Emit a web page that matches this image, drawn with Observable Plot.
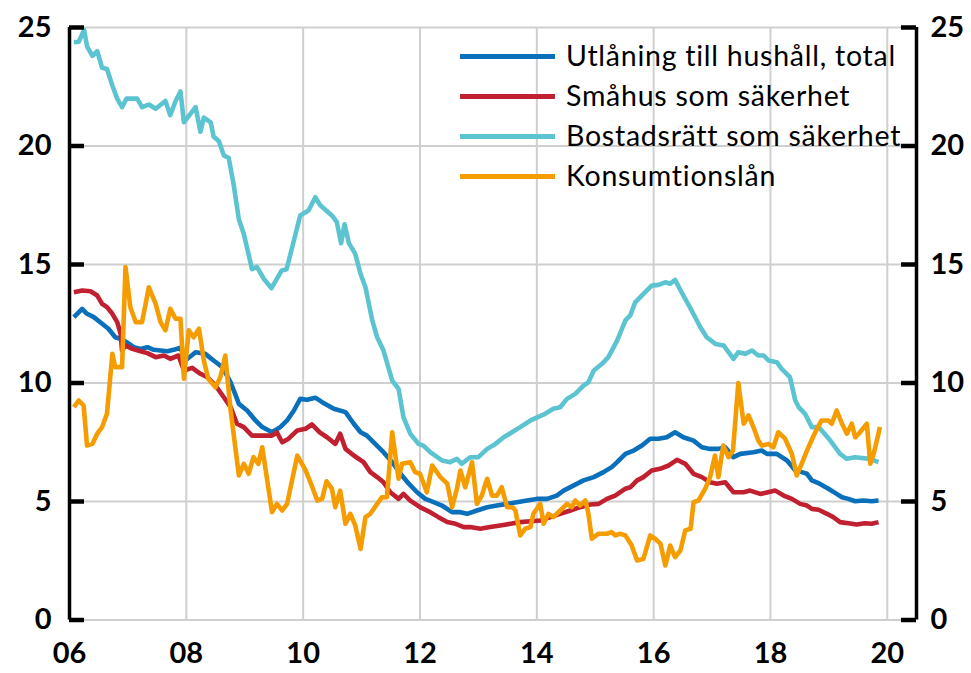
<!DOCTYPE html>
<html>
<head>
<meta charset="utf-8">
<script src="https://cdn.jsdelivr.net/npm/d3@7"></script>
<script src="https://cdn.jsdelivr.net/npm/@observablehq/plot@0.6"></script>
<style>
  html, body { margin: 0; padding: 0; background: #fff; }
  #wrap { position: relative; width: 971px; height: 673px; }
  .leg { position: absolute; left: 460px; font-family: Lato, "Open Sans", sans-serif; font-size: 28.5px; letter-spacing: 0.75px; font-variant-ligatures: none; color: #000; white-space: nowrap; }
  .leg .sw { position: absolute; left: 0; width: 95px; height: 5px; }
  .leg .tx { position: absolute; left: 106px; line-height: 1; }
  svg text { font-variant-ligatures: none; }
</style>
</head>
<body>
<div id="wrap"></div>
<script>
// ---- Data (months since Jan 2006, value in percent) ----
const seriesNames = ["Utlåning till hushåll, total", "Småhus som säkerhet", "Bostadsrätt som säkerhet", "Konsumtionslån"];

const totalMonths = [0.9,2.6,3.6,5.0,6.7,8.0,9.4,10.5,11.8,13.2,14.6,16.0,17.3,18.7,20.1,21.4,22.8,23.8,25.9,27.9,29.6,31.4,33.1,34.8,36.5,38.2,39.6,41.6,43.3,44.7,46.1,47.4,48.8,50.5,51.9,54.3,56.7,58.4,59.8,61.1,62.8,64.5,66.3,68.0,69.7,71.4,73.1,74.8,76.5,78.6,80.3,81.7,83.7,85.8,87.8,89.9,91.9,94.0,96.0,98.1,100.1,101.5,103.6,105.6,107.7,109.7,111.4,112.5,114.2,115.9,117.6,119.3,121.0,122.7,124.4,126.1,128.2,129.9,131.6,133.3,134.7,136.4,137.8,140.5,142.2,143.3,145.3,147.4,149.1,150.4,151.5,152.5,154.1,155.9,157.6,158.7,160.0,161.4,163.1,164.8,166.2];
const totalValues = [12.78,13.13,12.92,12.78,12.5,12.29,11.93,11.86,11.72,11.51,11.44,11.51,11.4,11.37,11.34,11.4,11.49,10.95,11.3,11.23,10.95,10.67,10.03,9.12,8.84,8.42,8.14,7.92,8.14,8.42,8.84,9.33,9.29,9.38,9.19,8.91,8.77,8.28,7.92,7.78,7.43,7.08,6.66,6.17,5.75,5.39,5.11,4.97,4.83,4.55,4.55,4.48,4.62,4.76,4.83,4.9,4.97,5.04,5.11,5.11,5.25,5.46,5.68,5.89,6.03,6.24,6.45,6.66,7.01,7.15,7.36,7.65,7.65,7.71,7.92,7.71,7.57,7.29,7.22,7.22,7.29,6.87,7.01,7.08,7.15,7.01,7.01,6.73,6.31,6.24,6.17,5.89,5.75,5.54,5.32,5.18,5.11,5.01,5.04,5.01,5.04];

const smahusMonths = [0.9,2.6,4.3,5.7,6.7,7.7,8.8,9.8,10.5,10.8,11.5,12.9,14.6,16.0,17.7,19.4,20.7,22.4,23.5,25.2,26.9,28.3,30.0,31.7,33.1,34.4,35.8,37.5,39.6,41.6,42.6,43.7,45.0,46.8,48.5,49.8,51.4,52.9,54.6,55.6,56.7,58.4,60.4,61.8,63.2,64.5,65.9,67.6,68.6,70.0,72.0,74.1,75.8,77.6,79.3,81.0,82.3,84.4,86.4,88.5,90.6,92.6,94.7,96.7,98.8,100.8,102.9,104.9,107.0,108.7,110.4,112.1,114.2,115.2,116.6,117.9,119.6,121.3,123.1,124.8,126.5,128.2,129.9,131.6,133.0,134.7,136.4,138.5,139.8,141.9,145.0,146.7,148.4,150.1,151.5,152.5,153.9,155.6,156.9,158.3,160.0,161.7,163.4,164.8,166.2];
const smahusValues = [13.83,13.9,13.87,13.69,13.34,13.2,12.92,12.57,12.08,11.37,11.58,11.44,11.34,11.26,11.09,11.16,11.02,11.16,10.53,10.64,10.39,10.25,9.89,9.4,8.98,8.28,8.14,7.78,7.78,7.78,7.92,7.5,7.65,8.0,8.07,8.25,7.92,7.71,7.43,7.86,7.22,6.94,6.66,6.24,6.03,5.81,5.39,5.11,5.32,5.04,4.76,4.55,4.34,4.13,4.06,3.92,3.92,3.85,3.92,3.99,4.06,4.13,4.17,4.2,4.34,4.48,4.62,4.76,4.87,4.9,5.11,5.25,5.54,5.6,5.89,6.03,6.31,6.38,6.52,6.76,6.59,6.17,6.03,5.81,5.75,5.81,5.39,5.39,5.46,5.32,5.46,5.25,5.11,4.9,4.83,4.69,4.65,4.48,4.34,4.13,4.08,4.03,4.08,4.06,4.13];

const brfMonths = [0.9,1.9,3.0,3.6,4.7,5.7,6.7,7.7,8.8,9.8,10.8,11.7,13.9,14.9,16.3,17.7,19.7,20.7,21.8,22.8,23.5,25.9,26.9,27.6,29.0,29.6,30.7,31.7,32.7,33.7,34.8,35.8,37.5,38.5,39.9,41.5,43.6,44.6,47.4,49.1,50.5,51.5,53.9,54.9,55.8,56.5,57.4,58.7,59.8,60.8,62.2,63.2,64.5,66.3,67.6,68.6,70.0,71.7,72.7,74.1,76.5,78.2,79.6,80.6,82.3,84.0,85.8,87.5,89.2,90.9,92.6,94.7,97.7,99.4,100.8,102.2,103.9,105.6,106.6,107.7,109.4,110.7,112.5,114.2,115.2,116.2,117.9,119.6,121.0,122.4,123.4,124.4,126.1,127.8,129.6,130.9,132.7,134.4,136.4,137.4,138.8,140.2,141.5,142.6,143.6,145.3,146.3,148.0,149.1,149.8,151.1,152.5,153.9,156.3,158.3,159.7,161.4,164.5,166.2];
const brfValues = [24.38,24.4,24.9,24.2,23.8,24.0,23.3,23.25,22.55,22.0,21.64,22.0,22.0,21.64,21.75,21.57,21.9,21.3,21.9,22.3,21.0,21.64,20.6,21.2,21.0,20.4,20.2,19.6,19.5,18.4,16.9,16.3,14.8,14.9,14.4,14.0,14.75,14.8,17.07,17.28,17.84,17.5,17.07,16.8,15.9,16.7,15.9,15.45,14.6,14.04,12.64,11.93,11.37,10.1,9.75,8.56,7.86,7.43,7.36,7.08,6.73,6.66,6.8,6.59,6.87,6.87,7.22,7.43,7.71,7.92,8.14,8.42,8.7,8.91,8.98,9.33,9.54,9.89,10.03,10.53,10.81,11.09,11.79,12.64,12.85,13.4,13.76,14.11,14.14,14.25,14.19,14.35,13.69,13.06,12.35,11.93,11.65,11.58,11.02,11.3,11.23,11.37,11.16,11.16,10.95,10.88,10.6,10.25,9.26,8.98,8.7,8.14,8.14,7.57,7.01,6.8,6.87,6.8,6.66];

const konsMonths = [0.9,1.9,2.9,3.6,4.7,5.7,6.7,7.7,8.8,9.4,10.8,11.5,12.5,13.6,14.9,16.3,17.7,18.7,19.7,20.7,21.8,22.8,23.5,24.5,25.5,26.6,27.6,28.5,30.0,31.0,32.0,33.1,34.8,35.8,36.8,37.8,38.8,39.6,41.6,42.6,43.7,44.7,46.8,48.5,49.5,50.9,51.9,52.8,53.9,54.6,55.6,56.7,57.7,58.7,59.8,60.8,61.8,63.2,64.2,65.2,66.3,67.6,68.3,70.0,71.0,72.0,73.4,74.5,76.2,77.6,78.6,79.6,80.3,81.3,82.7,83.7,84.7,85.8,86.8,87.8,88.8,89.9,91.0,91.6,92.6,93.6,94.7,95.3,96.7,97.4,98.4,99.4,100.8,102.2,103.2,103.9,104.9,106.0,106.6,107.3,108.7,110.4,111.4,112.1,113.1,114.2,115.5,116.6,117.9,119.3,120.3,121.4,122.4,123.4,124.4,125.5,126.5,127.6,128.2,129.2,130.6,131.6,132.6,133.3,134.3,135.4,136.3,137.4,138.5,139.5,140.5,141.5,142.2,143.6,144.6,145.6,147.0,148.4,149.4,150.4,151.8,153.2,154.5,155.9,156.6,157.6,158.7,159.7,160.7,161.4,162.4,163.8,164.5,165.2,166.5];
const konsValues = [8.98,9.26,9.05,7.36,7.43,7.86,8.14,8.7,11.23,10.67,10.67,14.89,13.2,12.57,12.57,14.04,13.34,12.57,12.22,13.13,12.71,12.71,10.18,12.22,11.93,12.29,10.95,10.18,9.82,10.25,11.16,8.84,6.1,6.59,6.17,6.87,6.59,7.29,4.55,4.9,4.62,4.9,6.94,6.31,5.81,5.04,5.11,5.85,5.54,4.76,5.46,4.06,4.48,3.99,3.0,4.34,4.48,4.9,5.18,5.18,7.92,5.96,6.59,6.66,6.24,6.17,5.39,6.52,6.03,5.75,4.76,5.54,6.31,5.6,6.66,4.9,5.25,5.96,5.25,5.25,5.6,4.76,4.76,4.62,3.57,3.85,3.92,4.48,4.9,4.06,4.48,4.34,4.62,4.9,4.76,5.04,4.83,5.04,4.48,3.43,3.64,3.64,3.71,3.57,3.64,3.57,3.14,2.51,2.58,3.57,3.43,3.22,2.3,3.14,2.65,2.93,3.78,3.85,4.97,5.04,5.54,6.03,6.94,6.03,7.36,6.87,7.15,10.0,8.28,8.63,8.14,7.57,7.36,7.43,7.29,7.92,7.65,7.01,6.1,6.59,7.29,7.92,8.42,8.42,8.28,8.84,8.28,7.86,8.28,7.71,7.92,8.28,6.59,7.01,8.14];

const yTicks = [0, 5, 10, 15, 20, 25];
const xLabelYears = [2006, 2008, 2010, 2012, 2014, 2016, 2018, 2020];
const xGridYears = [2008, 2010, 2012, 2014, 2016, 2018, 2020];
const xDomain = [2006, 2020.5];

// ---- Styles ----
const colors = ["#0a70bb", "#c0202f", "#5cc3d1", "#f59c00"];
const W = 971, H = 673;
const mL = 69, mR = 55, mT = 27, mB = 53.5;
const plotW = W - mL - mR;

const toRows = (months, values, s) => months.map((m, i) => ({x: 2006 + m / 12, y: values[i], s}));
const series = [
  toRows(totalMonths, totalValues, 0),
  toRows(smahusMonths, smahusValues, 1),
  toRows(brfMonths, brfValues, 2),
  toRows(konsMonths, konsValues, 3)
];

const chart = Plot.plot({
  width: W, height: H,
  marginLeft: mL, marginRight: mR, marginTop: mT, marginBottom: mB,
  style: {fontFamily: "Lato, 'Open Sans', sans-serif", fontSize: "29px", fontWeight: "bold", background: "#fff", color: "#000"},
  x: {type: "linear", domain: xDomain},
  y: {domain: [0, 25]},
  marks: [
    Plot.gridY(yTicks, {stroke: "#cfcfcf", strokeOpacity: 1, strokeWidth: 2}),
    Plot.gridX(xGridYears, {stroke: "#cfcfcf", strokeOpacity: 1, strokeWidth: 2}),
    ...series.map((rows, i) => Plot.line(rows, {x: "x", y: "y", stroke: colors[i], strokeWidth: 4.6, strokeLinejoin: "round", strokeLinecap: "butt"})),
    Plot.ruleX(xDomain, {stroke: "#000", strokeWidth: 3.5}),
    Plot.tickY(yTicks, {y: d => d, stroke: "#000", strokeWidth: 4.5, insetRight: plotW - 15}),
    Plot.tickY(yTicks, {y: d => d, stroke: "#000", strokeWidth: 4.5, insetLeft: plotW - 15}),
    Plot.axisY(yTicks, {anchor: "left", tickSize: 0, tickPadding: 18, label: null}),
    Plot.axisY(yTicks, {anchor: "right", tickSize: 0, tickPadding: 14, label: null}),
    Plot.axisX(xLabelYears, {anchor: "bottom", tickSize: 0, tickPadding: 22, tickFormat: d => String(d).slice(2), label: null})
  ]
});

const wrap = document.getElementById("wrap");
wrap.appendChild(chart);

// Legend (HTML overlay, inside the plot area top-right)
seriesNames.forEach((name, i) => {
  const item = document.createElement("div");
  item.className = "leg";
  item.style.top = (56.7 + i * 40) + "px";
  const sw = document.createElement("div");
  sw.className = "sw";
  sw.style.background = colors[i];
  sw.style.top = "-2.5px";
  const tx = document.createElement("div");
  tx.className = "tx";
  tx.style.top = "-0.56em";
  tx.textContent = name;
  item.appendChild(sw);
  item.appendChild(tx);
  wrap.appendChild(item);
});
</script>
</body>
</html>
